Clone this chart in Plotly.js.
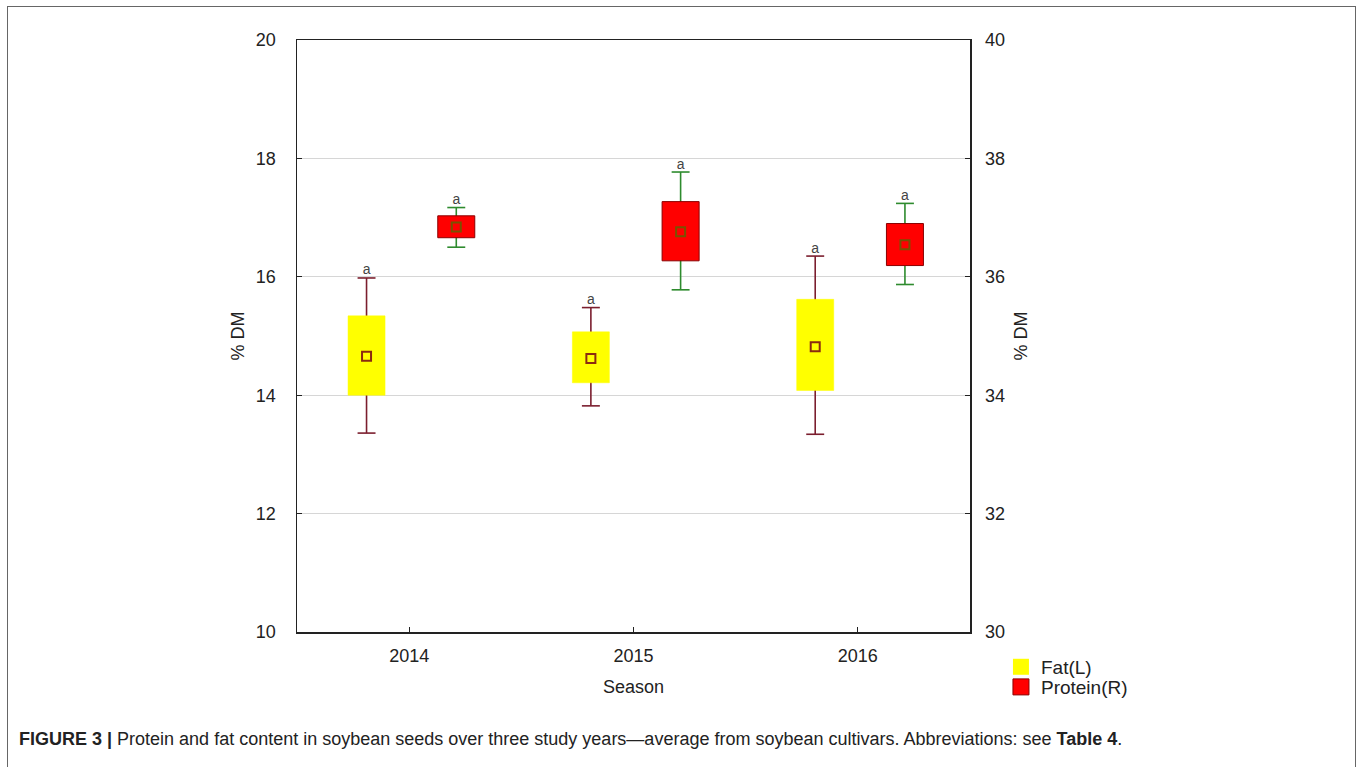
<!DOCTYPE html>
<html>
<head>
<meta charset="utf-8">
<script src="https://cdn.plot.ly/plotly-3.0.1.min.js"></script>
<style>
  html, body { margin: 0; padding: 0; background: #fff; overflow: hidden; }
  #frame { position: absolute; left: 7px; top: 6px; width: 1349px; height: 800px; border: 1.5px solid #666; box-sizing: border-box; z-index: 0; }
  #chart { position: absolute; left: 0; top: 0; width: 1362px; height: 767px; z-index: 1; }
</style>
</head>
<body>
<div id="frame"></div>
<div id="chart"></div>
<script>
// ---- data ----
const years = ['2014', '2015', '2016'];
const letters = ['a', 'a', 'a'];

// Fat (left axis, % DM)
const fatMean      = [14.66, 14.62, 14.82];
const fatBoxLow    = [14.00, 14.21, 14.08];
const fatBoxHigh   = [15.34, 15.07, 15.62];
const fatWhiskLow  = [13.36, 13.82, 13.34];
const fatWhiskHigh = [15.98, 15.48, 16.35];

// Protein (right axis, % DM)
const protMean      = [36.84, 36.76, 36.54];
const protBoxLow    = [36.66, 36.27, 36.19];
const protBoxHigh   = [37.03, 37.27, 36.90];
const protWhiskLow  = [36.50, 35.78, 35.87];
const protWhiskHigh = [37.17, 37.77, 37.24];

// ---- styling ----
const FONT = 'Arial, "Liberation Sans", Helvetica, sans-serif';
const boxHalf = 0.0825;
const capHalf = 0.04;
const fatOffset = -0.19;
const protOffset = 0.21;

function whiskerPath(offset, lo, hi) {
  const x = [], y = [];
  years.forEach((_, i) => {
    const c = i + offset;
    x.push(c, c, null, c - capHalf, c + capHalf, null, c - capHalf, c + capHalf, null);
    y.push(lo[i], hi[i], null, lo[i], lo[i], null, hi[i], hi[i], null);
  });
  return {x, y};
}
function boxPath(offset, lo, hi) {
  const x = [], y = [];
  years.forEach((_, i) => {
    const c = i + offset;
    x.push(c - boxHalf, c + boxHalf, c + boxHalf, c - boxHalf, c - boxHalf, null);
    y.push(lo[i], lo[i], hi[i], hi[i], lo[i], null);
  });
  return {x, y};
}
const pos = (offset) => years.map((_, i) => i + offset);

const fw = whiskerPath(fatOffset, fatWhiskLow, fatWhiskHigh);
const pw = whiskerPath(protOffset, protWhiskLow, protWhiskHigh);
const fb = boxPath(fatOffset, fatBoxLow, fatBoxHigh);
const pb = boxPath(protOffset, protBoxLow, protBoxHigh);

const traces = [
  {x: fw.x, y: fw.y, mode: 'lines', line: {color: '#7b1e2e', width: 1.6}, showlegend: false, hoverinfo: 'skip', yaxis: 'y'},
  {x: fb.x, y: fb.y, mode: 'lines', fill: 'toself', fillcolor: '#ffff00', line: {color: '#ffff00', width: 0.5}, showlegend: false, hoverinfo: 'skip', yaxis: 'y'},
  {x: pos(fatOffset), y: fatMean, mode: 'markers', marker: {symbol: 'square', size: 9, color: '#ffff00', line: {color: '#8b2a10', width: 2}}, showlegend: false, yaxis: 'y'},
  {x: pos(fatOffset), y: fatWhiskHigh, mode: 'text', text: letters, textposition: 'top center', textfont: {family: FONT, size: 14, color: '#444'}, showlegend: false, hoverinfo: 'skip', yaxis: 'y'},

  {x: pw.x, y: pw.y, mode: 'lines', line: {color: '#2e8b2e', width: 1.6}, showlegend: false, hoverinfo: 'skip', yaxis: 'y2'},
  {x: pb.x, y: pb.y, mode: 'lines', fill: 'toself', fillcolor: '#ff0000', line: {color: '#8b0000', width: 1}, showlegend: false, hoverinfo: 'skip', yaxis: 'y2'},
  {x: pos(protOffset), y: protMean, mode: 'markers', marker: {symbol: 'square', size: 9, color: '#ff0000', line: {color: '#7a5200', width: 2}}, showlegend: false, yaxis: 'y2'},
  {x: pos(protOffset), y: protWhiskHigh, mode: 'text', text: letters, textposition: 'top center', textfont: {family: FONT, size: 14, color: '#444'}, showlegend: false, hoverinfo: 'skip', yaxis: 'y2'},

  // legend entries
  {x: [null], y: [null], name: 'Fat(L)', legend: 'legend', mode: 'markers', marker: {symbol: 'square', size: 16, color: '#ffff00', line: {color: '#ffff00', width: 0}}, yaxis: 'y'},
  {x: [null], y: [null], name: 'Protein(R)', legend: 'legend2', mode: 'markers', marker: {symbol: 'square', size: 16, color: '#ff0000', line: {color: '#8b0000', width: 1}}, yaxis: 'y2'}
];

const legendBase = {xanchor: 'left', yanchor: 'middle', font: {family: FONT, size: 19, color: '#222'}, bgcolor: 'rgba(0,0,0,0)', itemwidth: 30, borderwidth: 0};

const layout = {
  width: 1362, height: 767,
  margin: {l: 297, r: 392, t: 40, b: 135, pad: 0},
  paper_bgcolor: 'rgba(0,0,0,0)',
  plot_bgcolor: '#ffffff',
  font: {family: FONT, size: 18, color: '#222'},
  showlegend: true,
  legend: Object.assign({}, legendBase, {x: 1.046, y: -0.059}),
  legend2: Object.assign({}, legendBase, {x: 1.046, y: -0.093}),
  xaxis: {
    range: [-0.5, 2.5], tickvals: [0, 1, 2], ticktext: years,
    showgrid: false, zeroline: false, showline: true, linecolor: '#222', linewidth: 1.5, mirror: true,
    ticks: 'inside', ticklen: 5, tickcolor: '#222', ticklabelstandoff: 7,
    tickfont: {family: FONT, size: 18, color: '#222'},
    title: {text: 'Season', font: {family: FONT, size: 18, color: '#222'}, standoff: 15},
    fixedrange: true
  },
  yaxis: {
    range: [10, 20], dtick: 2, tick0: 10,
    showgrid: true, gridcolor: '#d6d6d6', gridwidth: 1.2, zeroline: false,
    showline: true, linecolor: '#222', linewidth: 1.5,
    ticks: 'inside', ticklen: 5, tickcolor: '#222', ticklabelstandoff: 16,
    tickfont: {family: FONT, size: 18, color: '#222'},
    title: {text: '% DM', font: {family: FONT, size: 18, color: '#222'}, standoff: 6},
    fixedrange: true
  },
  yaxis2: {
    range: [30, 40], dtick: 2, tick0: 30, overlaying: 'y', side: 'right',
    showgrid: false, zeroline: false, showline: true, linecolor: '#222', linewidth: 1.5,
    ticks: 'inside', ticklen: 5, tickcolor: '#222', ticklabelstandoff: 10,
    tickfont: {family: FONT, size: 18, color: '#222'},
    title: {text: '% DM', font: {family: FONT, size: 18, color: '#222'}, standoff: 10},
    fixedrange: true
  },
  annotations: [{
    xref: 'paper', yref: 'paper', x: -0.416, y: -0.1807, xanchor: 'left', yanchor: 'middle',
    showarrow: false, align: 'left',
    text: '<b>FIGURE 3 |</b> Protein and fat content in soybean seeds over three study years\u2014average from soybean cultivars. Abbreviations: see <b>Table 4</b>.',
    font: {family: FONT, size: 18, color: '#222'}
  }]
};

Plotly.newPlot('chart', traces, layout, {displayModeBar: false, staticPlot: true});
</script>
</body>
</html>
